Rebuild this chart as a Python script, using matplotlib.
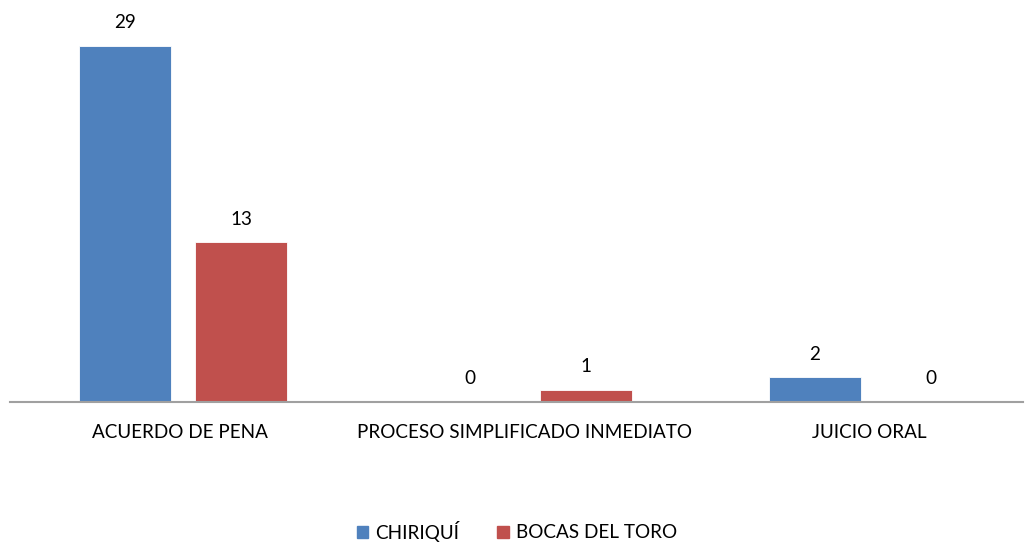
import numpy as np
import matplotlib.pyplot as plt
from matplotlib.patches import Patch

categories = ["ACUERDO DE PENA", "PROCESO SIMPLIFICADO INMEDIATO", "JUICIO ORAL"]
series_names = ["CHIRIQUÍ", "BOCAS DEL TORO"]
chiriqui = [29, 0, 2]
bocas = [13, 1, 0]

colors = ["#4F81BD", "#C0504D"]

plt.rcParams['font.family'] = ['Lato', 'DejaVu Sans']
fs = 13.6

fig = plt.figure(figsize=(10.33, 5.42), dpi=100)
ax = fig.add_axes([10 / 1033, 140 / 542, 1013 / 1033, 392 / 542])

x = np.arange(len(categories))
w = 0.266
off = 0.168
for vals, dx, c in [(chiriqui, -off, colors[0]), (bocas, off, colors[1])]:
    bars = ax.bar(x + dx, vals, width=w, color=c, edgecolor='white', linewidth=0.6)
    for b, v in zip(bars, vals):
        ax.annotate(str(v), (b.get_x() + b.get_width() / 2, v), xytext=(0, 10.5),
                    textcoords='offset points', ha='center', va='bottom',
                    fontsize=fs, color='black')

ax.set_xlim(-0.5014, 2.435)
ax.set_ylim(0, 31.9)
ax.set_xticks(x - 0.01)
ax.set_xticklabels(categories, fontsize=fs)
ax.tick_params(axis='x', length=0, pad=16)
ax.set_yticks([])
for s in ['top', 'right', 'left']:
    ax.spines[s].set_visible(False)
ax.spines['bottom'].set_color('#A0A0A0')
ax.spines['bottom'].set_linewidth(1.5)

handles = [Patch(color=colors[i], label=series_names[i]) for i in range(2)]
fig.legend(handles=handles, loc='center', bbox_to_anchor=(517 / 1033, 1 - 531 / 542),
           ncol=2, frameon=False, fontsize=fs, handlelength=0.6, handleheight=0.6,
           handletextpad=0.4, columnspacing=2.0)

fig.savefig("out.png", dpi=100)
